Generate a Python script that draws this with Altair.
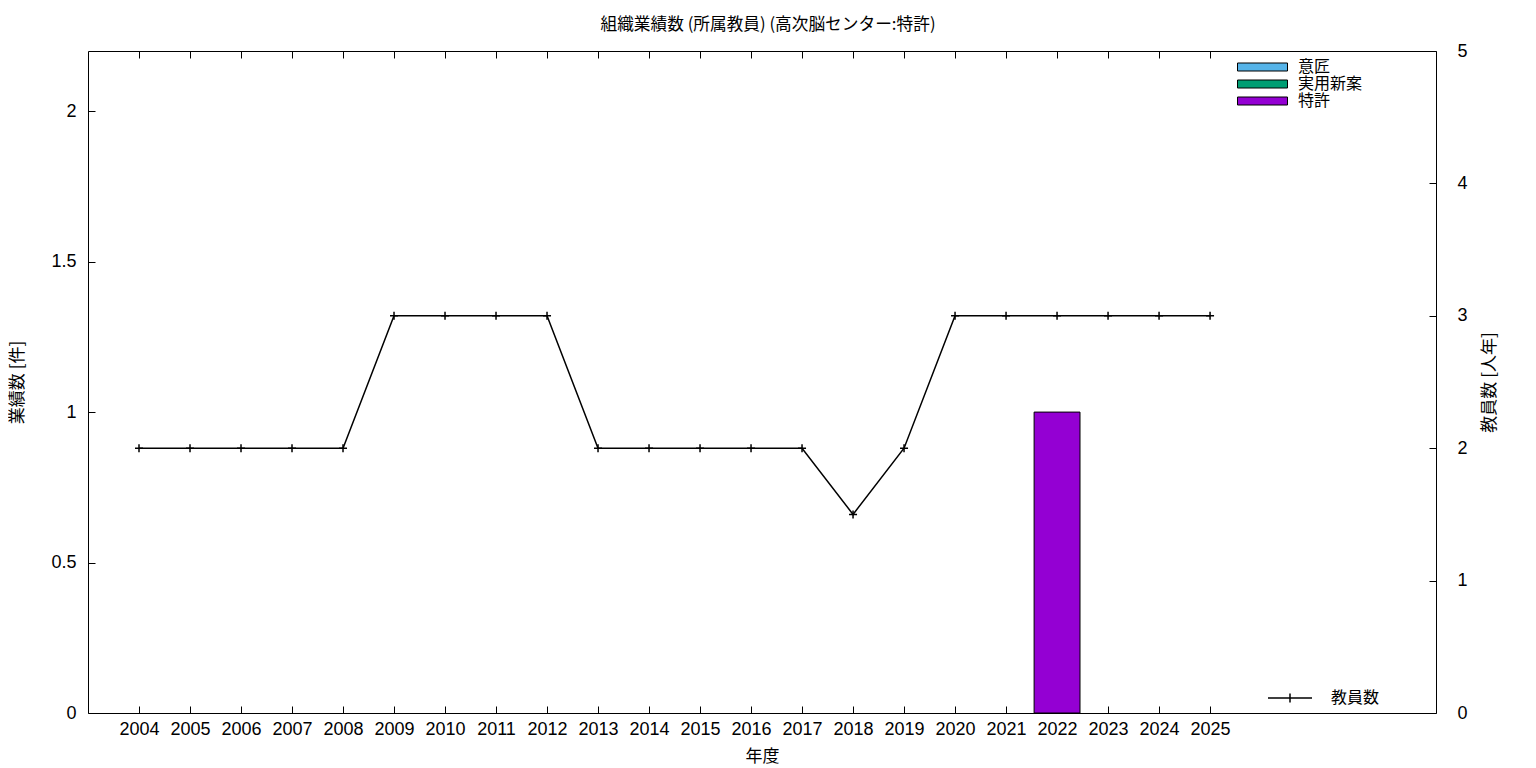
import altair as alt
import pandas as pd

years = list(range(2004, 2026))
staff = [2, 2, 2, 2, 2, 3, 3, 3, 3, 2, 2, 2, 2, 2, 1.5, 2, 3, 3, 3, 3, 3, 3]

bar_years = [2022]
bar_types = ["特許"]
bar_values = [1]

type_names = ["意匠", "実用新案", "特許"]
type_colors = ["#56B4E9", "#009E73", "#9400D3"]

left_ticks = [0, 0.5, 1, 1.5, 2]
right_ticks = [0, 1, 2, 3, 4, 5]

JP = "Noto Sans CJK JP"
NUM = "Liberation Sans"

staff_df = pd.DataFrame({"year": years, "staff": staff, "series": ["教員数"] * len(years)})
bar_df = pd.DataFrame({"year": bar_years, "type": bar_types, "value": bar_values})

xscale = alt.Scale(domain=[2003, 2029.43], nice=False, zero=False)

x_bottom = alt.X(
    "x0:Q", scale=xscale,
    axis=alt.Axis(orient="bottom", values=years, format="d", title="年度",
                  offset=-7, tickSize=7, labelPadding=7, domain=False, grid=False,
                  labelFlush=False, labelOverlap=False,
                  labelFont=NUM, labelFontSize=18, labelColor="black",
                  titleFont=JP, titleFontSize=17, titleFontWeight="normal",
                  titleColor="black", titlePadding=10, tickColor="black"))

bars = alt.Chart(bar_df).transform_calculate(
    x0="datum.year - 0.45", x1="datum.year + 0.45", base="0"
).mark_bar(stroke="black", strokeWidth=1, opacity=1).encode(
    x=x_bottom,
    x2="x1:Q",
    y=alt.Y("value:Q", scale=alt.Scale(domain=[0, 2.2], nice=False, zero=True),
            axis=alt.Axis(orient="left", values=left_ticks, format="~g", title="業績数 [件]",
                          offset=-7, tickSize=7, labelPadding=12, domain=False, grid=False,
                          labelFlush=False, labelOverlap=False,
                          labelFont=NUM, labelFontSize=18, labelColor="black",
                          titleFont=JP, titleFontSize=17, titleFontWeight="normal",
                          titleColor="black", titlePadding=24, tickColor="black")),
    y2="base:Q",
    color=alt.Color("type:N", scale=alt.Scale(domain=type_names, range=type_colors),
                    legend=alt.Legend(title=None, orient="none", legendX=1149, legendY=7.5,
                                      symbolType="M-1,-0.16H1V0.16H-1Z", symbolSize=2500,
                                      symbolStrokeColor="black", symbolStrokeWidth=1,
                                      symbolOpacity=1,
                                      clipHeight=17, rowPadding=0, labelOffset=10,
                                      labelFont=JP, labelFontSize=16, labelColor="black",
                                      padding=0, symbolOffset=0)),
)

yright = alt.Scale(domain=[0, 5], nice=False, zero=True)

line = alt.Chart(staff_df).mark_line(strokeWidth=1.5).encode(
    x=alt.X("year:Q", scale=xscale,
            axis=alt.Axis(orient="top", values=years, labels=False, title=None,
                          offset=-7, tickSize=7, domain=False, grid=False, tickColor="black")),
    y=alt.Y("staff:Q", scale=yright,
            axis=alt.Axis(orient="right", values=right_ticks, format="d", title="教員数 [人年]",
                          offset=-7, tickSize=7, labelPadding=21, domain=False, grid=False,
                          labelFlush=False, labelOverlap=False,
                          labelFont=NUM, labelFontSize=18, labelColor="black",
                          titleFont=JP, titleFontSize=17, titleFontWeight="normal",
                          titleColor="black", titlePadding=31, titleAngle=270,
                          tickColor="black")),
    stroke=alt.Stroke("series:N", scale=alt.Scale(domain=["教員数"], range=["black"]),
                      legend=alt.Legend(title=None, orient="none", legendX=1179, legendY=638.5,
                                        symbolType="M-1,0H1M0,-0.2V0.2", symbolSize=1936,
                                        symbolStrokeWidth=1.5, symbolStrokeColor="black",
                                        clipHeight=17, rowPadding=0, labelOffset=18,
                                        labelFont=JP, labelFontSize=16, labelColor="black",
                                        padding=0, symbolOffset=0)),
)

pts = alt.Chart(staff_df).mark_point(
    shape="M-1,0H1M0,-1V1", size=64, filled=False, stroke="black", strokeWidth=1.5, opacity=1
).encode(
    x=alt.X("year:Q", scale=xscale, axis=None),
    y=alt.Y("staff:Q", scale=yright, axis=None),
)

chart = alt.layer(bars, line, pts).resolve_scale(y="independent").properties(
    width=1348, height=662,
    background="white",
    autosize=alt.AutoSizeParams(type="none"),
    padding={"left": 80, "top": 43, "right": 92, "bottom": 57},
    title=alt.TitleParams("組織業績数 (所属教員) (高次脳センター:特許)", font=JP, fontSize=16.7,
                          fontWeight="normal", color="black", offset=8, anchor="middle", dx=6),
).configure_view(stroke="black", strokeWidth=1)

chart.save("out.html", embed_options={"renderer": "svg", "actions": False})
